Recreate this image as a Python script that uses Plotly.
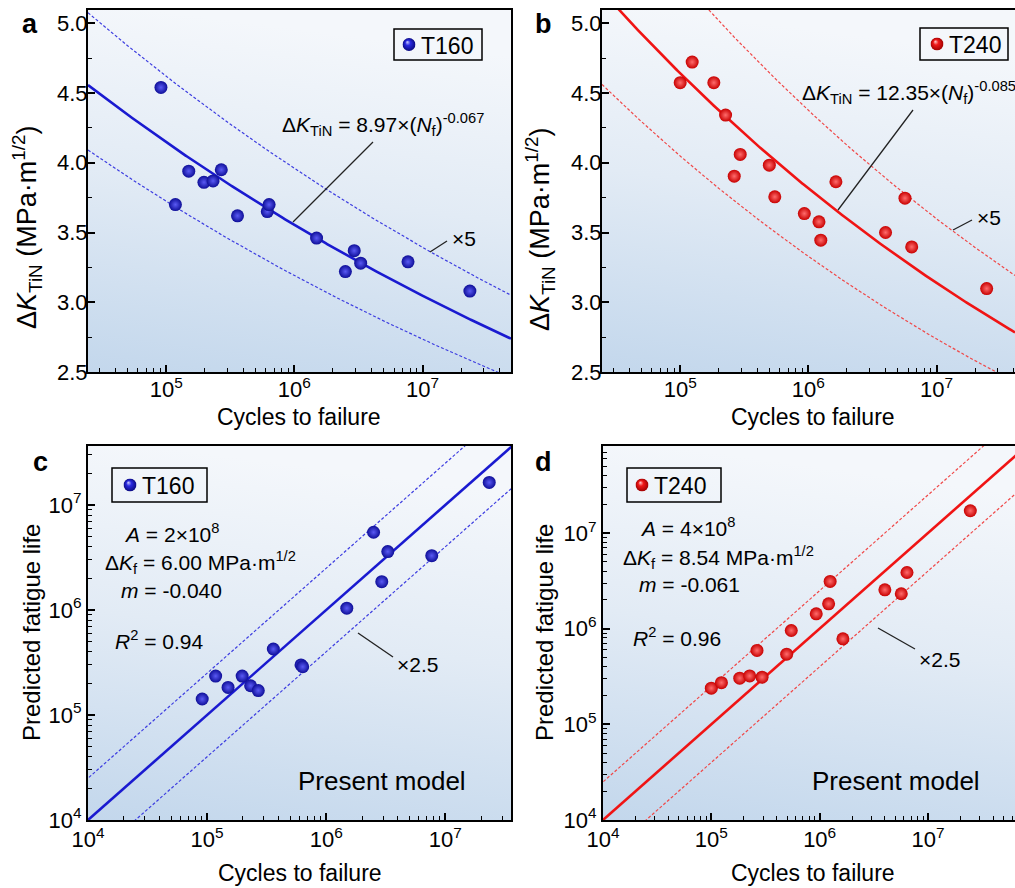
import base64
import numpy as np
import plotly.graph_objects as go

W, H = 1015, 888
FONT = "Liberation Sans, Arial, sans-serif"

# ---------------- data ----------------
t160_cycles = [9.1e4, 1.18e5, 1.5e5, 1.97e5, 2.32e5, 2.69e5, 3.6e5, 6.15e5, 6.35e5,
               1.49e6, 2.5e6, 2.93e6, 3.29e6, 7.7e6, 2.34e7]
t160_dk = [4.54, 3.70, 3.94, 3.86, 3.87, 3.95, 3.62, 3.65, 3.70,
           3.46, 3.22, 3.37, 3.28, 3.29, 3.08]
t160_pred = [1.42e5, 2.35e5, 1.83e5, 2.35e5, 1.9e5, 1.71e5, 4.25e5, 3.0e5, 2.88e5,
             1.04e6, 5.5e6, 1.86e6, 3.6e6, 3.29e6, 1.64e7]

t240_cycles = [1.0e5, 1.24e5, 1.83e5, 2.26e5, 2.64e5, 2.94e5, 4.96e5, 5.47e5, 9.3e5,
               1.21e6, 1.25e6, 1.64e6, 4.0e6, 5.67e6, 6.4e6, 2.46e7]
t240_dk = [4.574, 4.722, 4.574, 4.342, 3.904, 4.060, 3.983, 3.756, 3.636,
           3.577, 3.445, 3.864, 3.500, 3.746, 3.397, 3.098]
t240_pred = [2.39e5, 2.73e5, 3.04e5, 3.21e5, 5.92e5, 3.11e5, 5.42e5, 9.57e5, 1.43e6,
             1.82e6, 3.12e6, 7.83e5, 2.55e6, 2.32e6, 3.87e6, 1.71e7]

# fitted power laws dK = C * Nf^b, scatter band factors
t160_C, t160_b = 8.97, -0.067
t240_C, t240_b = 12.35, -0.085
band_ab = 5.0
band_cd = 2.5

x_ticks_ab = [1e5, 1e6, 1e7]
x_ticks_cd = [1e4, 1e5, 1e6, 1e7]
tick_text = {1e4: "10<sup>4</sup>", 1e5: "10<sup>5</sup>", 1e6: "10<sup>6</sup>", 1e7: "10<sup>7</sup>"}
minor_vals = [k * 10.0 ** n for n in range(4, 8) for k in range(2, 10)]

BLUE, BLUE_C = "#0e0e98", "#5a5af4"
RED, RED_C = "#c80000", "#ff6c6c"
BLUE_LINE, BLUE_DASH = "#1a1ad0", "#3d3de0"
RED_LINE, RED_DASH = "#f01414", "#f04848"


def px(x):
    return x / W


def py(y):
    return 1 - y / H


# ---------------- panel geometry ----------------
ab_xr = [4.39, 7.69]
b_vis = ab_xr[0] + (W - 602) / 423 * (ab_xr[1] - ab_xr[0])
d_xr_full = [4.0, 7.905]
d_vis = d_xr_full[0] + (W - 603) / 423 * (d_xr_full[1] - d_xr_full[0])

fig = go.Figure()


def fit_curve(C, b, xr, factor=1.0):
    n = np.logspace(xr[0], xr[1], 300)
    return n, C * (n / factor) ** b


def line_style(solid, red):
    if solid:
        return dict(color=RED_LINE if red else BLUE_LINE, width=2.6)
    return dict(color=RED_DASH if red else BLUE_DASH, width=1.2, dash="3px,2px")


def marker(red):
    return dict(size=13, color=RED if red else BLUE, line=dict(width=0),
                gradient=dict(type="radial", color=RED_C if red else BLUE_C))


# ----- panel a -----
for f, solid in [(band_ab, False), (1 / band_ab, False), (1.0, True)]:
    n, k = fit_curve(t160_C, t160_b, ab_xr, f)
    fig.add_trace(go.Scatter(x=n, y=k, mode="lines", line=line_style(solid, False),
                             showlegend=False, xaxis="x", yaxis="y", hoverinfo="skip"))
fig.add_trace(go.Scatter(x=t160_cycles, y=t160_dk, mode="markers", name="T160",
                         marker=marker(False), showlegend=False, xaxis="x", yaxis="y"))

# ----- panel b -----
for f, solid in [(band_ab, False), (1 / band_ab, False), (1.0, True)]:
    n, k = fit_curve(t240_C, t240_b, [ab_xr[0], b_vis], f)
    fig.add_trace(go.Scatter(x=n, y=k, mode="lines", line=line_style(solid, True), showlegend=False,
                             xaxis="x2", yaxis="y2", hoverinfo="skip"))
fig.add_trace(go.Scatter(x=t240_cycles, y=t240_dk, mode="markers", name="T240",
                         marker=marker(True), showlegend=False, xaxis="x2", yaxis="y2"))

# ----- panel c -----
diag = [1e3, 1e9]
for f, solid in [(band_cd, False), (1 / band_cd, False), (1.0, True)]:
    fig.add_trace(go.Scatter(x=diag, y=[v * f for v in diag], mode="lines", line=line_style(solid, False),
                             showlegend=False, xaxis="x3", yaxis="y3", hoverinfo="skip"))
fig.add_trace(go.Scatter(x=t160_cycles, y=t160_pred, mode="markers", name="T160",
                         marker=marker(False), showlegend=False, xaxis="x3", yaxis="y3"))

# ----- panel d -----
for f, solid in [(band_cd, False), (1 / band_cd, False), (1.0, True)]:
    fig.add_trace(go.Scatter(x=diag, y=[v * f for v in diag], mode="lines", line=line_style(solid, True),
                             showlegend=False, xaxis="x4", yaxis="y4", hoverinfo="skip"))
fig.add_trace(go.Scatter(x=t240_cycles, y=t240_pred, mode="markers", name="T240",
                         marker=marker(True), showlegend=False, xaxis="x4", yaxis="y4"))

# ---------------- axes ----------------
base = dict(showline=True, linecolor="black", linewidth=2, ticks="inside", ticklen=7,
            tickwidth=1.5, tickcolor="black", showgrid=False, zeroline=False, automargin=False,
            tickfont=dict(size=22, color="black", family=FONT))
logminor = dict(ticks="inside", ticklen=4, tickwidth=1, tickcolor="black",
                tickmode="array", tickvals=minor_vals, showgrid=False)
linminor = dict(ticks="inside", ticklen=4, tickwidth=1, tickcolor="black", dtick=0.25, showgrid=False)


def logax(dom, rng, anchor, ticks, mirror, standoff=0):
    return dict(base, type="log", domain=dom, range=rng, anchor=anchor, mirror=mirror,
                tickmode="array", tickvals=ticks, ticktext=[tick_text[t] for t in ticks],
                minor=logminor, ticklabelstandoff=standoff)


def linax(dom, rng, anchor, mirror):
    return dict(base, domain=dom, range=rng, anchor=anchor, mirror=mirror,
                dtick=0.5, tick0=2.5, tickformat=".1f", minor=linminor, ticklabelstandoff=-6)


yr_ab = [2.5, 5.0 + 13.3 / 139.5]
fig.update_layout(
    xaxis=logax([px(88), px(511)], ab_xr, "y", x_ticks_ab, True, -3),
    yaxis=linax([py(372), py(10)], yr_ab, "x", True),
    xaxis2=logax([px(602), 1.0], [ab_xr[0], b_vis], "y2", x_ticks_ab, True, -3),
    yaxis2=linax([py(372), py(10)], yr_ab, "x2", False),
    xaxis3=logax([px(88), px(511)], [4.0, 7.552], "y3", x_ticks_cd, True, -1),
    yaxis3=logax([py(820), py(446)], [4.0, 7.562], "x3", x_ticks_cd, True),
    xaxis4=logax([px(603), 1.0], [4.0, d_vis], "y4", x_ticks_cd, True, -1),
    yaxis4=logax([py(820), py(446)], [4.0, 7.91], "x4", x_ticks_cd, False),
)

# ---------------- background gradient ----------------
svg = ('<svg xmlns="http://www.w3.org/2000/svg" width="100" height="100" viewBox="0 0 100 100" '
       'preserveAspectRatio="none"><defs><linearGradient id="g" x1="0.15" y1="0" x2="0" y2="1">'
       '<stop offset="0" stop-color="#f4f7fb"/><stop offset="0.45" stop-color="#e2ebf5"/>'
       '<stop offset="1" stop-color="#c3d7ec"/></linearGradient></defs>'
       '<rect width="100" height="100" fill="url(#g)"/></svg>')
src = "data:image/svg+xml;base64," + base64.b64encode(svg.encode()).decode()
images = []
for xa, ya in [("x", "y"), ("x2", "y2"), ("x3", "y3"), ("x4", "y4")]:
    images.append(dict(source=src, xref=xa + " domain", yref=ya + " domain", x=0, y=1,
                       sizex=1, sizey=1, xanchor="left", yanchor="top", sizing="stretch",
                       layer="below"))


def sphere_src(c_hi, c_mid, c_edge):
    s = ('<svg xmlns="http://www.w3.org/2000/svg" width="100" height="100" viewBox="0 0 100 100">'
         '<defs><radialGradient id="s" cx="0.5" cy="0.5" r="0.5" fx="0.36" fy="0.3">'
         '<stop offset="0" stop-color="%s"/><stop offset="0.4" stop-color="%s"/>'
         '<stop offset="1" stop-color="%s"/></radialGradient></defs>'
         '<circle cx="50" cy="50" r="50" fill="url(#s)"/></svg>') % (c_hi, c_mid, c_edge)
    return "data:image/svg+xml;base64," + base64.b64encode(s.encode()).decode()


blue_sphere = sphere_src("#d0d0ff", "#2a2ae0", "#0a0a80")
red_sphere = sphere_src("#ffd0d0", "#f01a1a", "#a00000")

# ---------------- legends (box + sphere + label) ----------------
shapes = []
ann = []


def text(x, y, t, size=21, xanchor="left", yanchor="middle", angle=0, bold=False):
    ann.append(dict(x=px(x), y=py(y), xref="paper", yref="paper", text=("<b>%s</b>" % t) if bold else t,
                    showarrow=False, xanchor=xanchor, yanchor=yanchor, textangle=angle,
                    font=dict(size=size, color="black", family=FONT)))


def legend_box(x0, y0, x1, y1, mx, label, sphere):
    shapes.append(dict(type="rect", xref="paper", yref="paper", x0=px(x0), x1=px(x1),
                       y0=py(y1), y1=py(y0), line=dict(color="black", width=1.5)))
    cy = (y0 + y1) / 2
    images.append(dict(source=sphere, xref="paper", yref="paper", x=px(mx - 6.5), y=py(cy - 6.5),
                       sizex=13 / W, sizey=13 / H, xanchor="left", yanchor="top", sizing="stretch",
                       layer="above"))
    text(mx + 10, cy + 1, label, 23)


legend_box(394, 29, 482, 60, 409, "T160", blue_sphere)
legend_box(920, 28, 1008, 60, 937, "T240", red_sphere)
legend_box(112, 468, 207, 502, 130, "T160", blue_sphere)
legend_box(627, 468, 721, 502, 642, "T240", red_sphere)

# ---------------- texts ----------------
DK = "Δ<i>K</i><sub>TiN</sub>"
text(30, 24, "a", 27, "center", bold=True)
text(543, 24, "b", 27, "center", bold=True)
text(40, 462, "c", 27, "center", bold=True)
text(543, 462, "d", 27, "center", bold=True)

ytitle = DK + " (MPa·m<sup>1/2</sup>)"
text(27, 227, ytitle, 27, "center", angle=-90)
text(540, 229, ytitle, 27, "center", angle=-90)
text(31, 633, "Predicted fatigue life", 24, "center", angle=-90)
text(544, 633, "Predicted fatigue life", 24, "center", angle=-90)
text(299, 417, "Cycles to failure", 23, "center")
text(813, 417, "Cycles to failure", 23, "center")
text(300, 873, "Cycles to failure", 23, "center")
text(813, 873, "Cycles to failure", 23, "center")

text(280, 125, DK + " = %.2f×(<i>N</i><sub>f</sub>)<sup>%.3f</sup>" % (t160_C, t160_b), 21)
text(800, 92, DK + " = %.2f×(<i>N</i><sub>f</sub>)<sup>%.3f</sup>" % (t240_C, t240_b), 21)
text(450, 238, "×5", 21)
text(975, 217, "×5", 21)

text(122, 533, "<i>A</i> = 2×10<sup>8</sup>", 21)
text(103, 562, "Δ<i>K</i><sub>f</sub> = 6.00 MPa·m<sup>1/2</sup>", 21)
text(119, 590, "<i>m</i> = -0.040", 21)
text(113, 640, "<i>R</i><sup>2</sup> = 0.94", 21)
text(395, 664, "×2.5", 21)
text(296, 781, "Present model", 26)

text(638, 527, "<i>A</i> = 4×10<sup>8</sup>", 21)
text(621, 557, "Δ<i>K</i><sub>f</sub> = 8.54 MPa·m<sup>1/2</sup>", 21)
text(637, 584, "<i>m</i> = -0.061", 21)
text(631, 637, "<i>R</i><sup>2</sup> = 0.96", 21)
text(917, 659, "×2.5", 21)
text(810, 781, "Present model", 26)


def leader(x0, y0, x1, y1):
    shapes.append(dict(type="line", xref="paper", yref="paper", x0=px(x0), y0=py(y0),
                       x1=px(x1), y1=py(y1), line=dict(color="#222222", width=1.3)))


leader(293, 222, 373, 142)
leader(430, 252, 447, 241)
leader(838, 210, 913, 110)
leader(953, 230, 972, 220)
leader(358, 633, 393, 657)
leader(878, 628, 915, 649)

fig.update_layout(
    width=W, height=H, margin=dict(l=0, r=0, t=0, b=0, autoexpand=False),
    paper_bgcolor="white", plot_bgcolor="rgba(0,0,0,0)", showlegend=False,
    font=dict(family=FONT, color="black"),
    annotations=ann, shapes=shapes, images=images,
)

fig.write_html("out.html", config={"displayModeBar": False},
               post_script="document.body.style.margin='0';document.body.style.overflow='hidden';")
